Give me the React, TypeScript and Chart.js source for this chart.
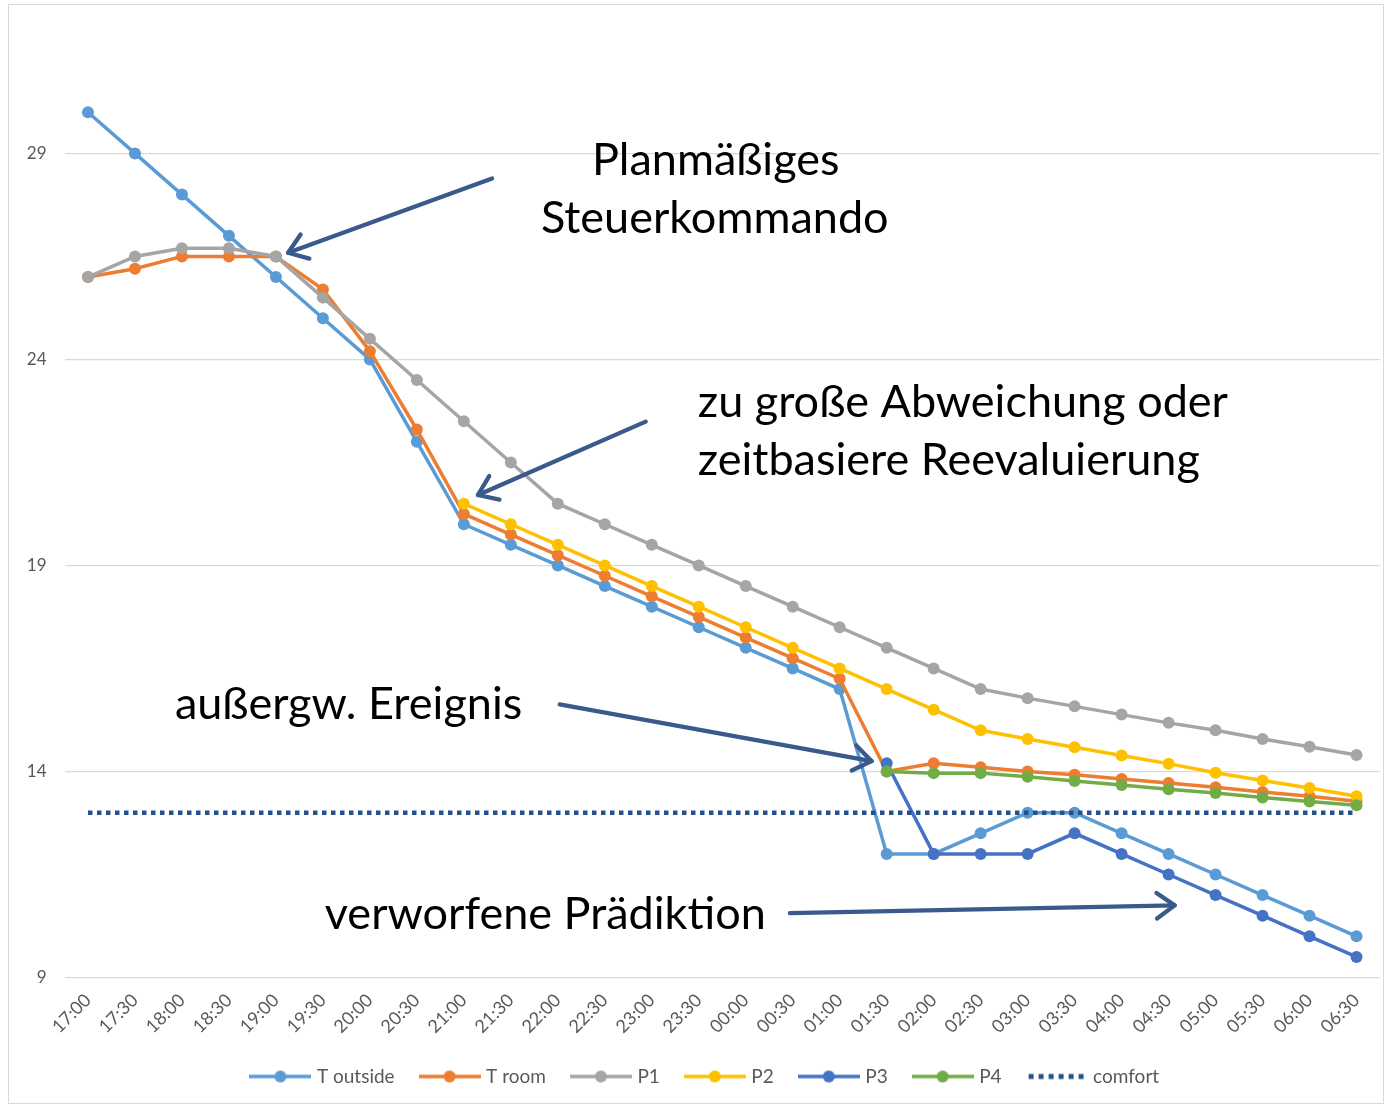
import React, { useEffect, useRef } from "react";
import { Chart, registerables } from "chart.js";

Chart.register(...registerables);

const categories = [
  "17:00", "17:30", "18:00", "18:30", "19:00", "19:30", "20:00", "20:30", "21:00", "21:30",
  "22:00", "22:30", "23:00", "23:30", "00:00", "00:30", "01:00", "01:30", "02:00", "02:30",
  "03:00", "03:30", "04:00", "04:30", "05:00", "05:30", "06:00", "06:30",
];

const tOutside = [30, 29, 28, 27, 26, 25, 24, 22, 20, 19.5, 19, 18.5, 18, 17.5, 17, 16.5, 16, 12, 12, 12.5, 13, 13, 12.5, 12, 11.5, 11, 10.5, 10];
const tRoom = [26, 26.2, 26.5, 26.5, 26.5, 25.7, 24.2, 22.3, 20.25, 19.75, 19.25, 18.75, 18.25, 17.75, 17.25, 16.75, 16.25, 14, 14.2, 14.1, 14, 13.92, 13.82, 13.72, 13.62, 13.5, 13.4, 13.28];
const p1 = [26, 26.5, 26.7, 26.7, 26.5, 25.5, 24.5, 23.5, 22.5, 21.5, 20.5, 20, 19.5, 19, 18.5, 18, 17.5, 17, 16.5, 16, 15.78, 15.58, 15.38, 15.18, 15, 14.79, 14.6, 14.4];
const p2 = [null, null, null, null, null, null, null, null, 20.5, 20, 19.5, 19, 18.5, 18, 17.5, 17, 16.5, 16, 15.5, 15, 14.79, 14.59, 14.39, 14.19, 13.97, 13.78, 13.6, 13.4];
const p3 = [null, null, null, null, null, null, null, null, null, null, null, null, null, null, null, null, null, 14.2, 12, 12, 12, 12.5, 12, 11.5, 11, 10.5, 10, 9.5];
const p4 = [null, null, null, null, null, null, null, null, null, null, null, null, null, null, null, null, null, 14, 13.96, 13.96, 13.87, 13.77, 13.67, 13.57, 13.48, 13.37, 13.27, 13.18];
const comfort = [13, 13, 13, 13, 13, 13, 13, 13, 13, 13, 13, 13, 13, 13, 13, 13, 13, 13, 13, 13, 13, 13, 13, 13, 13, 13, 13, 13];

const seriesLabels = ["T outside", "T room", "P1", "P2", "P3", "P4", "comfort"];
const seriesColors = ["#5B9BD5", "#ED7D31", "#A5A5A5", "#FFC000", "#4472C4", "#70AD47", "#24518A"];
const seriesData = [tOutside, tRoom, p1, p2, p3, p4, comfort];

const yTicks = [9, 14, 19, 24, 29];

// annotations in data coordinates (category index, value)
const noteTexts = ["Planmäßiges", "Steuerkommando", "zu große Abweichung oder", "zeitbasiere Reevaluierung", "außergw. Ereignis", "verworfene Prädiktion"];
const noteX = [13.36, 13.34, 12.98, 12.98, 1.85, 5.04];
const noteY = [28.47, 27.08, 22.61, 21.2, 15.27, 10.17];
const noteAlign = ["center", "center", "left", "left", "left", "left"];

const arrowStartX = [8.6, 11.87, 10.04, 14.94];
const arrowStartY = [28.39, 22.49, 15.63, 10.56];
const arrowTipX = [4.26, 8.3, 16.68, 23.13];
const arrowTipY = [26.59, 20.71, 14.25, 10.75];

function makeIcon(color: string, dotted: boolean): HTMLCanvasElement {
  const c = document.createElement("canvas");
  c.width = 62;
  c.height = 16;
  const g = c.getContext("2d")!;
  if (dotted) {
    g.fillStyle = color;
    for (let k = 0; k < 6; k++) g.fillRect(3 + k * 10, 5.5, 5, 5);
  } else {
    g.strokeStyle = color;
    g.lineWidth = 3.5;
    g.beginPath();
    g.moveTo(0, 8);
    g.lineTo(62, 8);
    g.stroke();
    g.fillStyle = color;
    g.beginPath();
    g.arc(31, 8, 6, 0, Math.PI * 2);
    g.fill();
  }
  return c;
}

const framePlugin = {
  id: "frame",
  afterLayout(chart: any) {
    if (chart.legend) {
      chart.legend.left += 16;
      chart.legend.right += 16;
    }
  },
  beforeDraw(chart: any) {
    const ctx = chart.ctx;
    ctx.save();
    ctx.fillStyle = "#ffffff";
    ctx.fillRect(0, 0, chart.width, chart.height);
    ctx.strokeStyle = "#D9D9D9";
    ctx.lineWidth = 1;
    ctx.strokeRect(8.5, 4.5, 1375, 1099);
    ctx.restore();
  },
};

const notesPlugin = {
  id: "notes",
  afterDatasetsDraw(chart: any) {
    const ctx = chart.ctx;
    const xs = chart.scales.x;
    const ys = chart.scales.y;
    ctx.save();
    ctx.strokeStyle = "#3A5A8C";
    ctx.lineWidth = 4.3;
    ctx.lineCap = "round";
    ctx.lineJoin = "round";
    for (let i = 0; i < arrowStartX.length; i++) {
      const x1 = xs.getPixelForValue(arrowStartX[i]);
      const y1 = ys.getPixelForValue(arrowStartY[i]);
      const x2 = xs.getPixelForValue(arrowTipX[i]);
      const y2 = ys.getPixelForValue(arrowTipY[i]);
      ctx.beginPath();
      ctx.moveTo(x1, y1);
      ctx.lineTo(x2, y2);
      ctx.stroke();
      const ang = Math.atan2(y1 - y2, x1 - x2);
      const len = 22;
      const spread = 0.62;
      ctx.beginPath();
      ctx.moveTo(x2 + len * Math.cos(ang + spread), y2 + len * Math.sin(ang + spread));
      ctx.lineTo(x2, y2);
      ctx.lineTo(x2 + len * Math.cos(ang - spread), y2 + len * Math.sin(ang - spread));
      ctx.stroke();
    }
    ctx.fillStyle = "#000000";
    ctx.font = "45px Lato";
    ctx.textBaseline = "alphabetic";
    for (let i = 0; i < noteTexts.length; i++) {
      ctx.textAlign = noteAlign[i] as CanvasTextAlign;
      ctx.fillText(noteTexts[i], xs.getPixelForValue(noteX[i]), ys.getPixelForValue(noteY[i]));
    }
    ctx.restore();
  },
};

export default function App() {
  const ref = useRef<HTMLCanvasElement | null>(null);

  useEffect(() => {
    if (!ref.current) return;
    const icons = seriesLabels.map((_, i) => makeIcon(seriesColors[i], i === 6));
    const datasets = seriesLabels.map((label, i) => {
      const isComfort = i === 6;
      return {
        label,
        data: seriesData[i],
        borderColor: seriesColors[i],
        backgroundColor: seriesColors[i],
        borderWidth: isComfort ? 4.5 : 3.5,
        borderDash: isComfort ? [4.5, 4.5] : [],
        borderCapStyle: "butt",
        pointRadius: isComfort ? 0 : 6,
        pointHoverRadius: isComfort ? 0 : 6,
        pointBackgroundColor: seriesColors[i],
        pointBorderWidth: 0,
        tension: 0,
        fill: false,
        spanGaps: false,
        order: 10 - i,
      };
    });

    const chart = new Chart(ref.current, {
      type: "line",
      data: { labels: categories, datasets: datasets as any },
      options: {
        responsive: false,
        animation: false,
        devicePixelRatio: 1,
        layout: { padding: { left: 0, right: 5.5, top: 71, bottom: 11 } },
        plugins: {
          tooltip: { enabled: false },
          legend: {
            position: "bottom",
            labels: {
              usePointStyle: true,
              pointStyleWidth: 54,
              padding: 28,
              color: "#595959",
              font: { family: "Lato", size: 19 },
              generateLabels: () =>
                seriesLabels.map((t, i) => ({
                  text: t,
                  pointStyle: icons[i] as any,
                  fillStyle: seriesColors[i],
                  strokeStyle: seriesColors[i],
                  lineWidth: 0,
                  hidden: false,
                  datasetIndex: i,
                  fontColor: "#595959",
                })),
            },
          },
        },
        scales: {
          x: {
            type: "category",
            offset: true,
            grid: { display: false },
            border: { display: false },
            ticks: {
              autoSkip: false,
              maxRotation: 45,
              minRotation: 45,
              padding: 4,
              color: "#595959",
              font: { family: "Lato", size: 18 },
            },
            afterFit: (s: any) => {
              s.height = 61.5;
            },
          },
          y: {
            min: 9,
            max: 31,
            grid: { color: "#D9D9D9", lineWidth: 1.2, drawTicks: false },
            border: { display: false },
            ticks: {
              padding: 18,
              color: "#595959",
              font: { family: "Lato", size: 17 },
            },
            afterBuildTicks: (axis: any) => {
              axis.ticks = yTicks.map((v) => ({ value: v }));
            },
            afterFit: (s: any) => {
              s.width = 64.5;
            },
          },
        },
      },
      plugins: [framePlugin, notesPlugin],
    });
    return () => chart.destroy();
  }, []);

  return (
    <div style={{ position: "fixed", left: 0, top: 0, width: 1386, height: 1107, background: "#fff" }}>
      <canvas ref={ref} width={1386} height={1107} style={{ display: "block" }} />
    </div>
  );
}
